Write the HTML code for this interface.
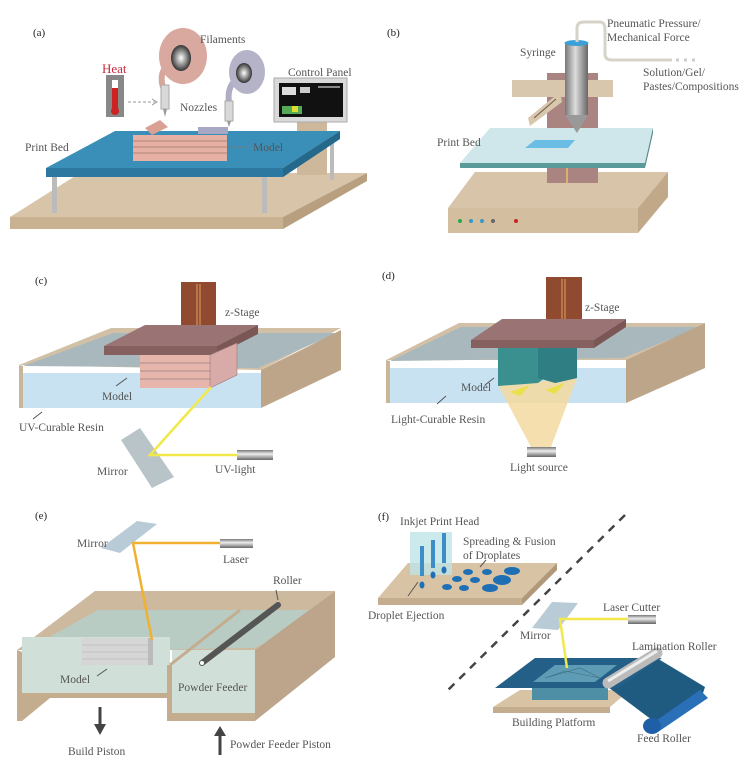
<!DOCTYPE html>
<html><head><meta charset="utf-8"><style>
html,body{margin:0;padding:0;background:#fff;}
svg{display:block;}
text{font-family:"Liberation Serif",serif;font-size:11.5px;fill:#555;}
.lb{fill:#222;font-size:11px;}
</style></head><body>
<svg width="749" height="760" viewBox="0 0 749 760" xmlns="http://www.w3.org/2000/svg">
<defs>
<linearGradient id="cyl" x1="0" y1="0" x2="0" y2="1"><stop offset="0" stop-color="#777"/><stop offset=".4" stop-color="#eee"/><stop offset="1" stop-color="#666"/></linearGradient>
<linearGradient id="cylv" x1="0" y1="0" x2="1" y2="0"><stop offset="0" stop-color="#777"/><stop offset=".45" stop-color="#ddd"/><stop offset="1" stop-color="#666"/></linearGradient>
<radialGradient id="hole"><stop offset="0" stop-color="#fff"/><stop offset="1" stop-color="#333"/></radialGradient>
</defs>

<!-- ===== (a) ===== -->
<text class="lb" x="33" y="36">(a)</text>
<polygon points="80,173 367,173 283,217 10,217" fill="#d8c4a8"/>
<polygon points="10,217 283,217 283,229 10,229" fill="#c8b292"/>
<polygon points="283,217 367,173 367,181 283,229" fill="#b89f80"/>
<!-- control panel -->
<rect x="297" y="120" width="30" height="55" fill="#cdb89c"/>
<rect x="274" y="78" width="73" height="44" fill="#d9d9d9" stroke="#aaa"/>
<rect x="279" y="83" width="64" height="34" fill="#111"/>
<rect x="282" y="87" width="14" height="8" fill="#ddd"/><rect x="300" y="87" width="10" height="6" fill="#ccc"/>
<rect x="282" y="106" width="20" height="8" fill="#5a5"/><rect x="292" y="106" width="6" height="6" fill="#dd3"/>
<rect x="318" y="86" width="22" height="2" fill="#888"/>
<!-- legs -->
<rect x="52" y="175" width="5" height="38" fill="#bbb"/>
<rect x="262" y="175" width="5" height="38" fill="#bbb"/>
<rect x="330" y="137" width="4" height="43" fill="#bbb"/>
<!-- bed -->
<polygon points="115,131 340,131 283,168 46,168" fill="#3a8fb8"/>
<polygon points="46,168 283,168 283,177 46,177" fill="#2c78a0"/>
<polygon points="283,168 340,131 340,139 283,177" fill="#24688c"/>
<!-- model -->
<rect x="133" y="135" width="94" height="26" fill="#e6b0a4"/>
<g stroke="#a07870" stroke-width=".8"><line x1="133" y1="141" x2="227" y2="141"/><line x1="133" y1="147" x2="227" y2="147"/><line x1="133" y1="153" x2="227" y2="153"/></g>
<rect x="198" y="127" width="30" height="7" fill="#a8a8c4"/>
<polygon points="145,128 160,120 168,127 152,135" fill="#d9a093"/>
<line x1="228" y1="147" x2="250" y2="147" stroke="#777" stroke-width=".8"/>
<!-- spools -->
<path d="M172,60 C160,70 160,80 164,90" stroke="#d7a79c" stroke-width="6" fill="none"/>
<rect x="161" y="85" width="8" height="24" fill="#d8d8d8" stroke="#aaa"/>
<polygon points="163,109 167,109 165,117" fill="#999"/>
<ellipse cx="183" cy="56" rx="24" ry="28" fill="#d9a89e"/>
<ellipse cx="181" cy="58" rx="10" ry="13" fill="url(#hole)"/>
<path d="M238,78 C228,85 228,95 229,103" stroke="#b0aec4" stroke-width="6" fill="none"/>
<rect x="225" y="101" width="8" height="20" fill="#d8d8d8" stroke="#aaa"/>
<polygon points="227,121 231,121 229,127" fill="#999"/>
<ellipse cx="247" cy="72" rx="18" ry="22" fill="#b5b3c8"/>
<ellipse cx="244" cy="73" rx="8" ry="10" fill="url(#hole)"/>
<!-- thermometer -->
<rect x="106" y="75" width="18" height="42" fill="#888"/>
<rect x="112" y="80" width="6" height="32" fill="#fff"/>
<rect x="112" y="88" width="6" height="24" fill="#c22"/>
<circle cx="115" cy="111" r="4" fill="#c22"/>
<line x1="128" y1="102" x2="155" y2="102" stroke="#999" stroke-dasharray="3,2"/>
<path d="M152,99 L157,102 L152,105" stroke="#999" fill="none"/>
<text x="102" y="73" style="fill:#c8283a;font-size:13px">Heat</text>
<text x="200" y="43">Filaments</text>
<text x="180" y="111">Nozzles</text>
<text x="288" y="76">Control Panel</text>
<text x="25" y="151">Print Bed</text>
<text x="253" y="151">Model</text>

<!-- ===== (b) ===== -->
<text class="lb" x="387" y="36">(b)</text>
<polygon points="475,172 668,172 638,208 448,208" fill="#d8c4a8"/>
<polygon points="448,208 638,208 638,233 448,233" fill="#d4bea0"/>
<polygon points="638,208 668,172 668,197 638,233" fill="#c0a888"/>
<circle cx="460" cy="221" r="2" fill="#2a4"/><circle cx="471" cy="221" r="2" fill="#39c"/><circle cx="482" cy="221" r="2" fill="#39c"/><circle cx="493" cy="221" r="2" fill="#666"/><circle cx="516" cy="221" r="2" fill="#c22"/>
<rect x="547" y="73" width="51" height="110" fill="#a98480"/>
<rect x="566" y="165" width="2" height="18" fill="#d9b070"/>
<polygon points="630,145 645,140 645,152 632,157" fill="#a98480"/>
<rect x="512" y="80" width="101" height="17" fill="#d8c7ac"/>
<polygon points="528,118 560,92 562,102 530,126" fill="#d8c7ac"/>
<line x1="534" y1="118" x2="556" y2="99" stroke="#6b5a48"/>
<polygon points="460,163 490,128 653,128 645,163" fill="#cfe6ea"/>
<polygon points="460,163 645,163 645,168 460,168" fill="#5a9a98"/>
<polygon points="645,163 653,128 653,133 645,168" fill="#4b8683"/>
<polygon points="525,148 535,140 575,140 568,148" fill="#6cbde4"/>
<rect x="565" y="43" width="23" height="72" fill="url(#cylv)"/>
<polygon points="565,115 588,115 577,133" fill="#999"/>
<ellipse cx="576.5" cy="43" rx="12" ry="3" fill="#3b9fd8"/>
<path d="M577,42 L577,28 Q577,22 584,22 L600,22 Q605,22 605,30 L605,54 Q605,60 612,60 L672,60" stroke="#d6d3c8" stroke-width="3" fill="none"/>
<line x1="676" y1="60" x2="700" y2="60" stroke="#ccc" stroke-width="3" stroke-dasharray="3,5"/>
<text x="520" y="56">Syringe</text>
<text x="607" y="27">Pneumatic Pressure/</text>
<text x="607" y="41">Mechanical Force</text>
<text x="643" y="76">Solution/Gel/</text>
<text x="643" y="90">Pastes/Compositions</text>
<text x="437" y="146">Print Bed</text>

<!-- ===== (c) ===== -->
<text class="lb" x="35" y="284">(c)</text>
<polygon points="19,365 111,328 341,328 261,370" fill="#d2c0a6"/>
<polygon points="23,366 113,333 337,333 258,368" fill="#a9b8bc"/>
<polygon points="19,373 261,373 261,408 19,408" fill="#c8e2f2"/>
<polygon points="19,365 23,366 23,408 19,408" fill="#c9b597"/>
<polygon points="261,370 341,330 341,370 261,408" fill="#bda58a"/>
<rect x="181" y="282" width="35" height="44" fill="#8f4a30"/>
<line x1="197" y1="284" x2="197" y2="325" stroke="#e0a060"/><line x1="200" y1="284" x2="200" y2="325" stroke="#e0a060"/>
<polygon points="104,346 145,325 258,325 217,346" fill="#9a7475"/>
<rect x="104" y="346" width="113" height="9" fill="#86605f"/>
<polygon points="217,346 258,325 258,334 217,355" fill="#7a5655"/>
<rect x="140" y="355" width="70" height="33" fill="#e6b5ab"/>
<g stroke="#9b7d7d" stroke-width=".8"><line x1="140" y1="363" x2="210" y2="363"/><line x1="140" y1="371" x2="210" y2="371"/><line x1="140" y1="379" x2="210" y2="379"/></g>
<polygon points="210,355 237,343 237,375 210,388" fill="#d8aaa8" stroke="#9b7d7d" stroke-width=".6"/>
<polygon points="121,440 140,428 174,477 152,488" fill="#b8c4c8"/>
<polyline points="211,387 150,455 237,455" stroke="#f1e84a" stroke-width="2.5" fill="none"/>
<rect x="237" y="450" width="36" height="10" fill="url(#cyl)"/>
<line x1="116" y1="386" x2="127" y2="378" stroke="#555"/>
<line x1="33" y1="419" x2="42" y2="412" stroke="#555"/>
<text x="225" y="316">z-Stage</text>
<text x="102" y="400">Model</text>
<text x="19" y="431">UV-Curable Resin</text>
<text x="97" y="475">Mirror</text>
<text x="215" y="473">UV-light</text>

<!-- ===== (d) ===== -->
<text class="lb" x="382" y="279">(d)</text>
<polygon points="386,360 459,323 705,323 626,360" fill="#d2c0a6"/>
<polygon points="390,361 461,327 701,327 623,358" fill="#a9b8bc"/>
<polygon points="386,368 626,368 626,403 386,403" fill="#c8e2f2"/>
<polygon points="386,360 390,361 390,403 386,403" fill="#c9b597"/>
<polygon points="626,360 705,323 705,368 626,403" fill="#bda58a"/>
<rect x="546" y="277" width="36" height="43" fill="#8f4a30"/>
<line x1="562" y1="279" x2="562" y2="319" stroke="#e0a060"/><line x1="565" y1="279" x2="565" y2="319" stroke="#e0a060"/>
<polygon points="498,385 577,378 551,447 531,447" fill="#f5d9a0" opacity=".85"/>
<polygon points="498,348 577,348 577,378 555,383 545,378 538,383 498,386" fill="#3a8f8f"/>
<polygon points="538,348 577,348 577,378 555,383 538,378" fill="#2f7e84"/>
<polygon points="471,340 502,319 626,319 594,340" fill="#9a7475"/>
<rect x="471" y="340" width="123" height="8" fill="#86605f"/>
<polygon points="594,340 626,319 626,327 594,348" fill="#7a5655"/>
<polygon points="510,392 530,385 520,396" fill="#e9e04a"/>
<polygon points="545,390 565,383 555,394" fill="#e9e04a"/>
<rect x="527" y="447" width="29" height="10" fill="url(#cyl)"/>
<line x1="485" y1="385" x2="494" y2="378" stroke="#555"/>
<line x1="437" y1="404" x2="446" y2="396" stroke="#555"/>
<text x="585" y="311">z-Stage</text>
<text x="461" y="391">Model</text>
<text x="391" y="423">Light-Curable Resin</text>
<text x="510" y="471">Light source</text>

<!-- ===== (e) ===== -->
<text class="lb" x="35" y="519">(e)</text>
<polygon points="17,650 95,591 335,591 255,650" fill="#cdb99e"/>
<polygon points="22,652 98,610 328,610 255,648" fill="#b9ccc3"/>
<polygon points="22,637 170,637 170,693 22,693" fill="#d0e0d8"/>
<polygon points="172,650 255,650 255,713 172,713" fill="#d0e0d8"/>
<polygon points="17,650 22,652 22,721 17,721" fill="#c4ad8f"/>
<polygon points="22,693 167,693 167,698 50,698 22,721" fill="#c4ad8f"/>
<polygon points="167,665 172,665 172,721 167,721" fill="#c4ad8f"/>
<polygon points="172,713 255,713 255,721 172,721" fill="#c4ad8f"/>
<line x1="170" y1="665" x2="240" y2="610" stroke="#c4ad8f" stroke-width="3"/>
<polygon points="255,650 335,591 335,657 255,721" fill="#bca58a"/>
<rect x="82" y="638" width="70" height="27" fill="#d6d6d6"/>
<g stroke="#bbb" stroke-width=".8"><line x1="82" y1="645" x2="152" y2="645"/><line x1="82" y1="652" x2="152" y2="652"/><line x1="82" y1="659" x2="152" y2="659"/></g>
<rect x="148" y="638" width="5" height="27" fill="#bbb"/>
<line x1="202" y1="663" x2="278" y2="605" stroke="#555" stroke-width="6" stroke-linecap="round"/>
<circle cx="202" cy="663" r="2" fill="#fff"/>
<polygon points="101,548 137,521 157,524 120,553" fill="#b8cbd6"/>
<polyline points="220,543 133,543 152,640" stroke="#f0b030" stroke-width="2.5" fill="none"/>
<rect x="220" y="539" width="33" height="9" fill="url(#cyl)"/>
<line x1="100" y1="707" x2="100" y2="726" stroke="#444" stroke-width="3"/>
<polygon points="94,724 106,724 100,735" fill="#444"/>
<line x1="220" y1="755" x2="220" y2="734" stroke="#444" stroke-width="3"/>
<polygon points="214,736 226,736 220,726" fill="#444"/>
<line x1="276" y1="590" x2="278" y2="600" stroke="#555"/>
<line x1="97" y1="676" x2="107" y2="669" stroke="#555"/>
<text x="77" y="547">Mirror</text>
<text x="223" y="563">Laser</text>
<text x="273" y="584">Roller</text>
<text x="60" y="683">Model</text>
<text x="178" y="691">Powder Feeder</text>
<text x="68" y="755">Build Piston</text>
<text x="230" y="748">Powder Feeder Piston</text>

<!-- ===== (f) ===== -->
<text class="lb" x="378" y="520">(f)</text>
<line x1="625" y1="515" x2="445" y2="693" stroke="#444" stroke-width="2.5" stroke-dasharray="8,7"/>
<polygon points="378,598 408,563 557,563 522,598" fill="#d8c3a5"/>
<polygon points="378,598 522,598 522,605 378,605" fill="#c4ad8f"/>
<polygon points="522,598 557,563 557,570 522,605" fill="#b09878"/>
<rect x="410" y="532" width="42" height="43" fill="#bfe3e6" opacity=".8"/>
<g fill="#3d8ec6"><rect x="420" y="546" width="4" height="30"/><rect x="431" y="540" width="4" height="28"/><rect x="442" y="533" width="4" height="30"/></g>
<g fill="#1f6fb5">
<ellipse cx="422" cy="585" rx="2.5" ry="3.5"/><ellipse cx="433" cy="575" rx="2.5" ry="3.5"/><ellipse cx="444" cy="570" rx="2.5" ry="3.5"/>
<ellipse cx="457" cy="579" rx="5" ry="3"/><ellipse cx="468" cy="572" rx="5" ry="3"/><ellipse cx="447" cy="587" rx="5" ry="3"/>
<ellipse cx="464" cy="588" rx="5" ry="3"/><ellipse cx="475" cy="580" rx="5" ry="3"/><ellipse cx="487" cy="572" rx="5" ry="3"/>
<ellipse cx="490" cy="588" rx="8" ry="4"/><ellipse cx="502" cy="580" rx="9" ry="5"/><ellipse cx="512" cy="571" rx="8" ry="4"/>
</g>
<line x1="408" y1="596" x2="418" y2="582" stroke="#555"/>
<line x1="486" y1="560" x2="480" y2="567" stroke="#555"/>
<polygon points="493,707 520,690 630,690 610,707" fill="#d8c3a5"/>
<polygon points="493,707 610,707 610,713 493,713" fill="#c4ad8f"/>
<rect x="532" y="682" width="76" height="18" fill="#4f8fa6"/>
<polygon points="608,687 655,657 705,687 703,693 658,723 648,717" fill="#1f5a80"/>
<polygon points="650,725 700,690 708,698 658,732" fill="#2a70b8"/>
<ellipse cx="652" cy="726" rx="9" ry="8" fill="#1e5fa8"/>
<polygon points="495,688 535,658 662,658 618,688" fill="#245f87"/>
<polygon points="533,682 555,665 617,665 595,682" fill="#5e9cb5"/>
<path d="M545,678 L580,668 L600,678 L565,671 Z" fill="none" stroke="#3d6e80" stroke-width=".6"/>
<line x1="608" y1="683" x2="657" y2="653" stroke="#bbb" stroke-width="11" stroke-linecap="round"/>
<line x1="608" y1="681" x2="657" y2="651" stroke="#eee" stroke-width="3"/>
<polygon points="532,628 552,602 578,603 558,630" fill="#b8cbd6"/>
<polyline points="628,619 560,619 567,668" stroke="#f1e84a" stroke-width="2.5" fill="none"/>
<rect x="628" y="615" width="28" height="9" fill="url(#cyl)"/>
<text x="400" y="525">Inkjet Print Head</text>
<text x="463" y="545">Spreading &amp; Fusion</text>
<text x="463" y="559">of Droplates</text>
<text x="368" y="619">Droplet Ejection</text>
<text x="603" y="611">Laser Cutter</text>
<text x="520" y="639">Mirror</text>
<text x="632" y="650">Lamination Roller</text>
<text x="512" y="726">Building Platform</text>
<text x="637" y="742">Feed Roller</text>
</svg>
</body></html>
